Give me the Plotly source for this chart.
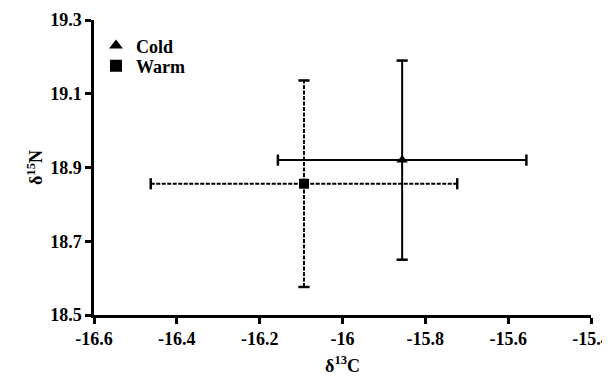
import plotly.graph_objects as go

groups = ["Cold", "Warm"]
d13c = [-15.856, -16.093]
d13c_err = [0.30, 0.37]
d15n = [18.92, 18.856]
d15n_err = [0.27, 0.28]
symbols = ["triangle-up", "square"]
dashes = ["solid", "4px,1.5px"]
legend_ids = ["legend", "legend2"]

x_ticks = [-16.6, -16.4, -16.2, -16.0, -15.8, -15.6, -15.4]
x_ticktext = ["-16.6", "-16.4", "-16.2", "-16", "-15.8", "-15.6", "-15.4"]
y_ticks = [18.5, 18.7, 18.9, 19.1, 19.3]
y_ticktext = ["18.5", "18.7", "18.9", "19.1", "19.3"]

font_family = "Liberation Serif, Times New Roman, serif"
bold_font = dict(family=font_family, size=18, color="black", weight="bold")
fig = go.Figure()

for g, x, xe, y, ye, sym, dash, lg in zip(groups, d13c, d13c_err, d15n, d15n_err,
                                          symbols, dashes, legend_ids):
    fig.add_trace(go.Scatter(x=[x - xe, x + xe], y=[y, y], mode="lines",
                             line=dict(color="black", width=2, dash=dash),
                             showlegend=False, hoverinfo="skip"))
    fig.add_trace(go.Scatter(x=[x, x], y=[y - ye, y + ye], mode="lines",
                             line=dict(color="black", width=2, dash=dash),
                             showlegend=False, hoverinfo="skip"))
    fig.add_trace(go.Scatter(x=[x - xe, x + xe], y=[y, y], mode="markers",
                             marker=dict(symbol="line-ns-open", size=8, color="black",
                                         line=dict(color="black", width=2.5)),
                             showlegend=False, hoverinfo="skip"))
    fig.add_trace(go.Scatter(x=[x, x], y=[y - ye, y + ye], mode="markers",
                             marker=dict(symbol="line-ew-open", size=8, color="black",
                                         line=dict(color="black", width=2.5)),
                             showlegend=False, hoverinfo="skip"))
    fig.add_trace(go.Scatter(x=[x], y=[y], mode="markers", name=g, legend=lg,
                             marker=dict(symbol=sym, size=10, color="black")))

legend_common = dict(xanchor="left", yanchor="top", bgcolor="rgba(0,0,0,0)",
                     itemsizing="constant", font=bold_font, itemwidth=30)

fig.update_layout(
    width=602, height=368,
    margin=dict(l=86, r=19, t=12, b=61, autoexpand=False),
    paper_bgcolor="white", plot_bgcolor="white",
    font=bold_font,
    legend=dict(x=0.004, y=0.975, **legend_common),
    legend2=dict(x=0.004, y=0.907, **legend_common),
    showlegend=True,
)

fig.update_xaxes(
    range=[-16.6, -15.4], tickvals=x_ticks, ticktext=x_ticktext, automargin=False,
    showgrid=False, zeroline=False, showline=True, linecolor="black", linewidth=2.5,
    ticks="outside", ticklen=6, tickwidth=2.5, tickcolor="black",
    tickfont=bold_font,
    title=dict(text="δ<sup>13</sup>C", standoff=12, font=bold_font),
)
fig.update_yaxes(
    range=[18.5, 19.3], tickvals=y_ticks, ticktext=y_ticktext, automargin=False,
    showgrid=False, zeroline=False, showline=True, linecolor="black", linewidth=2.5,
    ticks="outside", ticklen=6, tickwidth=2.5, tickcolor="black",
    tickfont=bold_font,
    title=dict(text="δ<sup>15</sup>N", standoff=3, font=bold_font),
)

fig.write_html("out.html")
